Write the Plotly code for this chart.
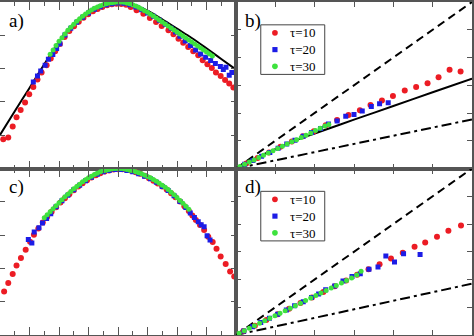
import plotly.graph_objects as go
from plotly.subplots import make_subplots

# ---------------- panel a ----------------
a_line_x = [-4.0, -3.5, -3.0, -2.5, -2.2, -2.0, -1.7, -1.4, -1.1, -0.8, -0.5, -0.2, 0.0,
            0.3, 0.6, 1.0, 1.5, 2.0, 2.5, 3.0, 3.5, 4.0]
a_line_y = [1.01, 1.72, 2.42, 3.13, 3.55, 3.81, 4.15, 4.43, 4.65, 4.82, 4.93, 4.99, 5.00,
            4.98, 4.90, 4.74, 4.48, 4.20, 3.92, 3.61, 3.29, 2.97]

a_red_x = [-3.89, -3.72, -3.57, -3.44, -3.30, -3.15, -3.01, -2.87, -2.73, -2.59, -2.42, -2.28,
           -2.13, -1.97, -1.81, -1.65, -1.49, -1.33, -1.17, -1.01, -0.85, -0.69, -0.53, -0.37,
           -0.21, -0.05, 0.11, 0.27, 0.43, 0.63, 0.86, 1.08, 1.29, 1.48, 1.71, 1.88, 2.05, 2.21,
           2.38, 2.55, 2.72, 2.87, 3.03, 3.18, 3.32, 3.48, 3.63, 3.77, 3.91]
a_red_y = [0.88, 0.93, 1.26, 1.54, 1.76, 1.98, 2.23, 2.45, 2.67, 2.88, 3.10, 3.30,
           3.52, 3.74, 3.95, 4.13, 4.27, 4.41, 4.53, 4.63, 4.72, 4.79, 4.85, 4.90,
           4.93, 4.95, 4.94, 4.92, 4.85, 4.75, 4.65, 4.52, 4.40, 4.28, 4.15, 4.03, 3.90, 3.78,
           3.65, 3.52, 3.40, 3.25, 3.13, 3.02, 2.88, 2.78, 2.66, 2.55, 2.43]

a_blue_x = [-2.87, -2.73, -2.62, -2.47, -2.36, -2.21, -2.08, -1.97, -1.80, -1.60, -1.40, -1.20,
            -1.00, -0.80, -0.60, -0.40, -0.20, 0.00, 0.20, 0.40, 0.60, 0.80, 1.00, 1.20, 1.40,
            1.60, 1.80, 1.95, 2.10, 2.28, 2.46, 2.63, 2.80, 2.97, 3.14, 3.30, 3.47, 3.57, 3.66,
            3.77, 3.86]
a_blue_y = [2.60, 2.78, 2.93, 3.10, 3.28, 3.42, 3.60, 3.75, 4.01, 4.21, 4.39, 4.54,
            4.67, 4.78, 4.86, 4.92, 4.95, 4.97, 4.96, 4.92, 4.85, 4.77, 4.67, 4.57, 4.45,
            4.33, 4.21, 4.10, 3.97, 3.83, 3.69, 3.56, 3.44, 3.34, 3.24, 3.15, 3.06, 2.97, 3.04,
            2.80, 2.88]

a_green_x = [-2.3, -2.2, -2.1, -2.0, -1.9, -1.8, -1.7, -1.6, -1.5, -1.4, -1.3, -1.2, -1.1, -1.0,
             -0.9, -0.8, -0.7, -0.6, -0.5, -0.4, -0.3, -0.2, -0.1, 0.0, 0.1, 0.2, 0.3, 0.4,
             0.5, 0.6, 0.7, 0.8, 0.9, 1.0, 1.1, 1.2, 1.3, 1.4, 1.5, 1.6, 1.7, 1.8, 1.9, 2.0,
             2.1, 2.2, 2.3, 2.4, 2.5, 2.6, 2.7, 2.8, 2.9, 3.0, 3.1, 3.2]
a_green_y = [3.43, 3.56, 3.69, 3.82, 3.93, 4.04, 4.15, 4.24, 4.33, 4.42, 4.50, 4.57, 4.64, 4.70,
             4.76, 4.81, 4.85, 4.89, 4.92, 4.95, 4.97, 4.98, 4.99, 5.00, 5.00, 4.99, 4.97, 4.95,
             4.92, 4.88, 4.84, 4.79, 4.74, 4.69, 4.63, 4.58, 4.52, 4.46, 4.40, 4.34, 4.28, 4.22,
             4.16, 4.10, 4.04, 3.98, 3.92, 3.86, 3.80, 3.74, 3.68, 3.62, 3.56, 3.50, 3.44, 3.38]

# ---------------- panel b ----------------
b_dash_x = [0.0, 6.0]
b_dash_y = [0.0, 6.0]
b_solid_x = [0.0, 0.25, 0.5, 0.75, 1.0, 1.5, 2.0, 3.0, 4.0, 5.0, 6.0]
b_solid_y = [0.0, 0.19, 0.37, 0.54, 0.70, 1.00, 1.26, 1.76, 2.25, 2.75, 3.24]
b_dashdot_x = [0.0, 6.0]
b_dashdot_y = [0.0, 1.77]

b_red_x = [0.26, 0.55, 0.84, 1.13, 1.42, 1.70, 1.98, 2.28, 2.57, 2.86, 3.15, 3.42, 3.71, 3.99,
           4.29, 4.58, 4.87, 5.15, 5.43, 5.71]
b_red_y = [0.18, 0.38, 0.58, 0.78, 0.97, 1.16, 1.34, 1.56, 1.75, 1.93, 2.10, 2.29, 2.45, 2.61,
           2.81, 2.94, 3.07, 3.29, 3.56, 3.50]
b_blue_x = [0.22, 0.43, 0.65, 0.86, 1.07, 1.29, 1.50, 1.71, 1.92, 2.15, 2.35, 2.57, 2.79, 3.00,
            3.21, 3.44, 3.65, 3.87]
b_blue_y = [0.15, 0.29, 0.44, 0.58, 0.73, 0.88, 1.02, 1.16, 1.30, 1.44, 1.60, 1.71, 1.88, 1.95,
            2.07, 2.23, 2.33, 2.37]
b_green_x = [0.10, 0.22, 0.34, 0.46, 0.58, 0.70, 0.82, 0.94, 1.06, 1.18, 1.30, 1.42, 1.54, 1.66,
             1.78, 1.90, 2.02, 2.14, 2.26, 2.36]
b_green_y = [0.07, 0.15, 0.23, 0.31, 0.40, 0.48, 0.56, 0.64, 0.72, 0.80, 0.88, 0.96, 1.04, 1.12,
             1.20, 1.28, 1.37, 1.45, 1.53, 1.59]

# ---------------- panel c ----------------
c_red_x = [-3.86, -3.72, -3.57, -3.44, -3.29, -3.13, -2.98, -2.85,
           -2.70, -2.55, -2.40, -2.25, -2.10, -1.95, -1.80, -1.65, -1.50, -1.35, -1.20, -1.05,
           -0.90, -0.75, -0.60, -0.45, -0.30, -0.15, 0.00, 0.15, 0.30, 0.45, 0.60, 0.75, 0.90,
           1.05, 1.20, 1.35, 1.50, 1.65, 1.80, 1.95, 2.10, 2.25, 2.40, 2.52, 2.64,
           2.78, 2.92, 3.06, 3.21, 3.34, 3.48, 3.65, 3.80, 3.94]
c_red_y = [1.31, 1.56, 1.83, 2.09, 2.31, 2.56, 2.80, 3.01,
           3.20, 3.38, 3.55, 3.70, 3.84, 3.98, 4.11, 4.23, 4.35, 4.46, 4.56, 4.65,
           4.73, 4.80, 4.86, 4.91, 4.94, 4.97, 4.98, 4.98, 4.96, 4.93, 4.89, 4.84, 4.78,
           4.71, 4.63, 4.55, 4.46, 4.37, 4.26, 4.14, 4.01, 3.87, 3.72, 3.59, 3.45,
           3.30, 3.15, 2.95, 2.79, 2.59, 2.36, 2.13, 1.91, 1.76]

c_blue_x = [-3.04, -2.92, -2.84, -2.68, -2.56, -2.42, -2.28,
            -2.10, -1.90, -1.70, -1.50, -1.30, -1.10, -0.90, -0.70, -0.50, -0.30, -0.10, 0.10,
            0.30, 0.50, 0.70, 0.90, 1.10, 1.30, 1.50, 1.70, 1.90, 2.10, 2.30,
            2.45, 2.59, 2.72, 2.82, 2.92, 3.02, 3.12]
c_blue_y = [2.87, 2.76, 3.09, 3.22, 3.36, 3.50, 3.64,
            3.85, 4.03, 4.20, 4.36, 4.50, 4.63, 4.74, 4.83, 4.90, 4.94, 4.97, 4.97,
            4.94, 4.90, 4.84, 4.77, 4.69, 4.59, 4.46, 4.34, 4.18, 4.01, 3.83,
            3.66, 3.53, 3.40, 3.31, 3.25, 2.98, 2.85]

c_green_x = [-2.5, -2.4, -2.3, -2.2, -2.1, -2.0, -1.9, -1.8, -1.7, -1.6, -1.5, -1.4, -1.3, -1.2,
             -1.1, -1.0, -0.9, -0.8, -0.7, -0.6, -0.5, -0.4, -0.3, -0.2, -0.1, 0.0, 0.1, 0.2,
             0.3, 0.4, 0.5, 0.6, 0.7, 0.8, 0.9, 1.0, 1.1, 1.2, 1.3, 1.4, 1.5, 1.6, 1.7, 1.8,
             1.9, 2.0, 2.1, 2.2, 2.3, 2.4]
c_green_y = [3.52, 3.61, 3.70, 3.79, 3.88, 3.97, 4.06, 4.15, 4.23, 4.31, 4.39, 4.46, 4.53, 4.60,
             4.66, 4.72, 4.77, 4.82, 4.86, 4.90, 4.93, 4.95, 4.97, 4.99, 5.00, 5.00, 5.00, 4.99,
             4.97, 4.95, 4.93, 4.90, 4.87, 4.84, 4.80, 4.76, 4.72, 4.67, 4.62, 4.56, 4.50, 4.44,
             4.37, 4.29, 4.21, 4.13, 4.04, 3.96, 3.87, 3.78]

# ---------------- panel d ----------------
d_dash_x = [0.0, 6.0]
d_dash_y = [0.0, 6.0]
d_dashdot_x = [0.0, 6.0]
d_dashdot_y = [0.0, 1.85]

d_red_x = [0.19, 0.48, 0.77, 1.06, 1.35, 1.64, 1.93, 2.22, 2.51, 2.80, 3.08, 3.37, 3.65, 3.94,
           4.24, 4.54, 4.81, 5.11, 5.40, 5.72]
d_red_y = [0.14, 0.33, 0.54, 0.75, 0.95, 1.15, 1.35, 1.55, 1.76, 1.96, 2.17, 2.37, 2.55, 2.76,
           2.96, 3.18, 3.33, 3.54, 3.76, 3.95]
d_blue_x = [0.20, 0.42, 0.63, 0.85, 1.06, 1.28, 1.49, 1.71, 1.92, 2.10, 2.28, 2.51, 2.72, 2.95,
            3.16, 3.38, 3.61, 3.81, 4.03, 4.26, 4.68]
d_blue_y = [0.14, 0.30, 0.45, 0.60, 0.75, 0.90, 1.05, 1.20, 1.35, 1.48, 1.63, 1.77, 1.95, 2.11,
            2.21, 2.37, 2.45, 2.85, 2.63, 2.93, 2.90]
d_green_x = [0.08, 0.21, 0.34, 0.47, 0.60, 0.73, 0.86, 0.99, 1.12, 1.25, 1.38, 1.51, 1.64, 1.77,
             1.90, 2.03, 2.16, 2.29, 2.42, 2.55, 2.68, 2.81, 2.94, 3.07, 3.18]
d_green_y = [0.06, 0.15, 0.24, 0.33, 0.42, 0.51, 0.60, 0.69, 0.78, 0.87, 0.96, 1.05, 1.14, 1.24,
             1.33, 1.42, 1.51, 1.60, 1.69, 1.78, 1.87, 1.96, 2.05, 2.16, 2.30]

series_names = ["τ=10", "τ=20", "τ=30"]
panel_labels = ["a)", "b)", "c)", "d)"]

RED = "#ec1c24"
BLUE = "#1c1ce6"
GREEN = "#3ee23e"
FRAME = "#555555"
SERIF = "Liberation Serif, Times New Roman, serif"

fig = make_subplots(rows=2, cols=2, horizontal_spacing=0, vertical_spacing=0)


def dots(x, y, color, symbol, size, row, col, name):
    fig.add_trace(go.Scatter(x=x, y=y, mode="markers", name=name, showlegend=False,
                             marker=dict(color=color, size=size, symbol=symbol,
                                         line=dict(width=0))),
                  row=row, col=col)


def line(x, y, dash, row, col, shape="linear"):
    fig.add_trace(go.Scatter(x=x, y=y, mode="lines", showlegend=False, hoverinfo="skip",
                             line=dict(color="black", width=2, dash=dash, shape=shape)),
                  row=row, col=col)


# a) profile with the reference curve
line(a_line_x, a_line_y, "solid", 1, 1, shape="spline")
dots(a_red_x, a_red_y, RED, "circle", 6, 1, 1, series_names[0])
dots(a_blue_x, a_blue_y, BLUE, "square", 5, 1, 1, series_names[1])
dots(a_green_x, a_green_y, GREEN, "circle", 5, 1, 1, series_names[2])

# b) growth with three guide lines
line(b_dash_x, b_dash_y, "8px,5px", 1, 2)
line(b_solid_x, b_solid_y, "solid", 1, 2, shape="spline")
line(b_dashdot_x, b_dashdot_y, "10px,4px,3px,4px", 1, 2)
dots(b_red_x, b_red_y, RED, "circle", 6, 1, 2, series_names[0])
dots(b_blue_x, b_blue_y, BLUE, "square", 5, 1, 2, series_names[1])
dots(b_green_x, b_green_y, GREEN, "circle", 5, 1, 2, series_names[2])

# c) profile
dots(c_red_x, c_red_y, RED, "circle", 6, 2, 1, series_names[0])
dots(c_blue_x, c_blue_y, BLUE, "square", 5, 2, 1, series_names[1])
dots(c_green_x, c_green_y, GREEN, "circle", 5, 2, 1, series_names[2])

# d) growth with two guide lines
line(d_dash_x, d_dash_y, "8px,5px", 2, 2)
line(d_dashdot_x, d_dashdot_y, "10px,4px,3px,4px", 2, 2)
dots(d_red_x, d_red_y, RED, "circle", 6, 2, 2, series_names[0])
dots(d_blue_x, d_blue_y, BLUE, "square", 5, 2, 2, series_names[1])
dots(d_green_x, d_green_y, GREEN, "circle", 5, 2, 2, series_names[2])

common = dict(showticklabels=False, showgrid=False, zeroline=False, showline=True,
              mirror="ticks", linecolor=FRAME, linewidth=2, ticks="inside",
              tickcolor=FRAME, tickwidth=1)

for ax in ("xaxis", "xaxis3"):
    fig.update_layout({ax: dict(range=[-4, 4], tick0=0, dtick=1, ticklen=8,
                                minor=dict(dtick=0.5, ticks="inside", ticklen=4,
                                           tickcolor=FRAME, showgrid=False),
                                **common)})
for ax in ("yaxis", "yaxis3"):
    fig.update_layout({ax: dict(range=[0, 5], tick0=0, dtick=1, ticklen=5, **common)})
for ax in ("xaxis2", "xaxis4", "yaxis2", "yaxis4"):
    fig.update_layout({ax: dict(range=[0, 6], tick0=0, dtick=1, ticklen=5, **common)})

# panel letters
for i, lab in enumerate(panel_labels):
    n = "" if i == 0 else str(i + 1)
    fig.add_annotation(text=lab, xref=f"x{n} domain", yref=f"y{n} domain",
                       x=0.03, y=0.965, xanchor="left", yanchor="top", showarrow=False,
                       font=dict(family=SERIF, size=19, color="black"))

# boxed keys in b) and d): one three-line text block beside three swatches
colors = [RED, BLUE, GREEN]
line_step = 13 * 1.3 / 168
key_y = [0.714 + line_step, 0.714, 0.714 - line_step]
for n in ("2", "4"):
    xr, yr = f"x{n} domain", f"y{n} domain"
    fig.add_shape(type="rect", xref=xr, yref=yr, x0=0.105, x1=0.376,
                  y0=0.714 - 25 / 168, y1=0.714 + 25 / 168,
                  line=dict(color="#444444", width=1), fillcolor="white", layer="above")
    for k in range(3):
        hx, hy = 2.6 / 237, 2.6 / 168
        if k == 1:
            fig.add_shape(type="rect", xref=xr, yref=yr, x0=0.165 - hx, x1=0.165 + hx,
                          y0=key_y[k] - hy, y1=key_y[k] + hy, line=dict(width=0),
                          fillcolor=colors[k], layer="above")
        else:
            fig.add_shape(type="circle", xref=xr, yref=yr, x0=0.165 - hx * 1.1,
                          x1=0.165 + hx * 1.1, y0=key_y[k] - hy * 1.1, y1=key_y[k] + hy * 1.1,
                          line=dict(width=0), fillcolor=colors[k], layer="above")
    fig.add_annotation(text="<br>".join(series_names), xref=xr, yref=yr, x=0.222, y=0.714,
                       xanchor="left", yanchor="middle", align="left", showarrow=False,
                       font=dict(family=SERIF, size=13, color="black"))

fig.update_layout(width=474, height=336, margin=dict(l=0, r=0, t=0, b=1),
                  plot_bgcolor="white", paper_bgcolor="white", showlegend=False)

fig.write_html("out.html")
